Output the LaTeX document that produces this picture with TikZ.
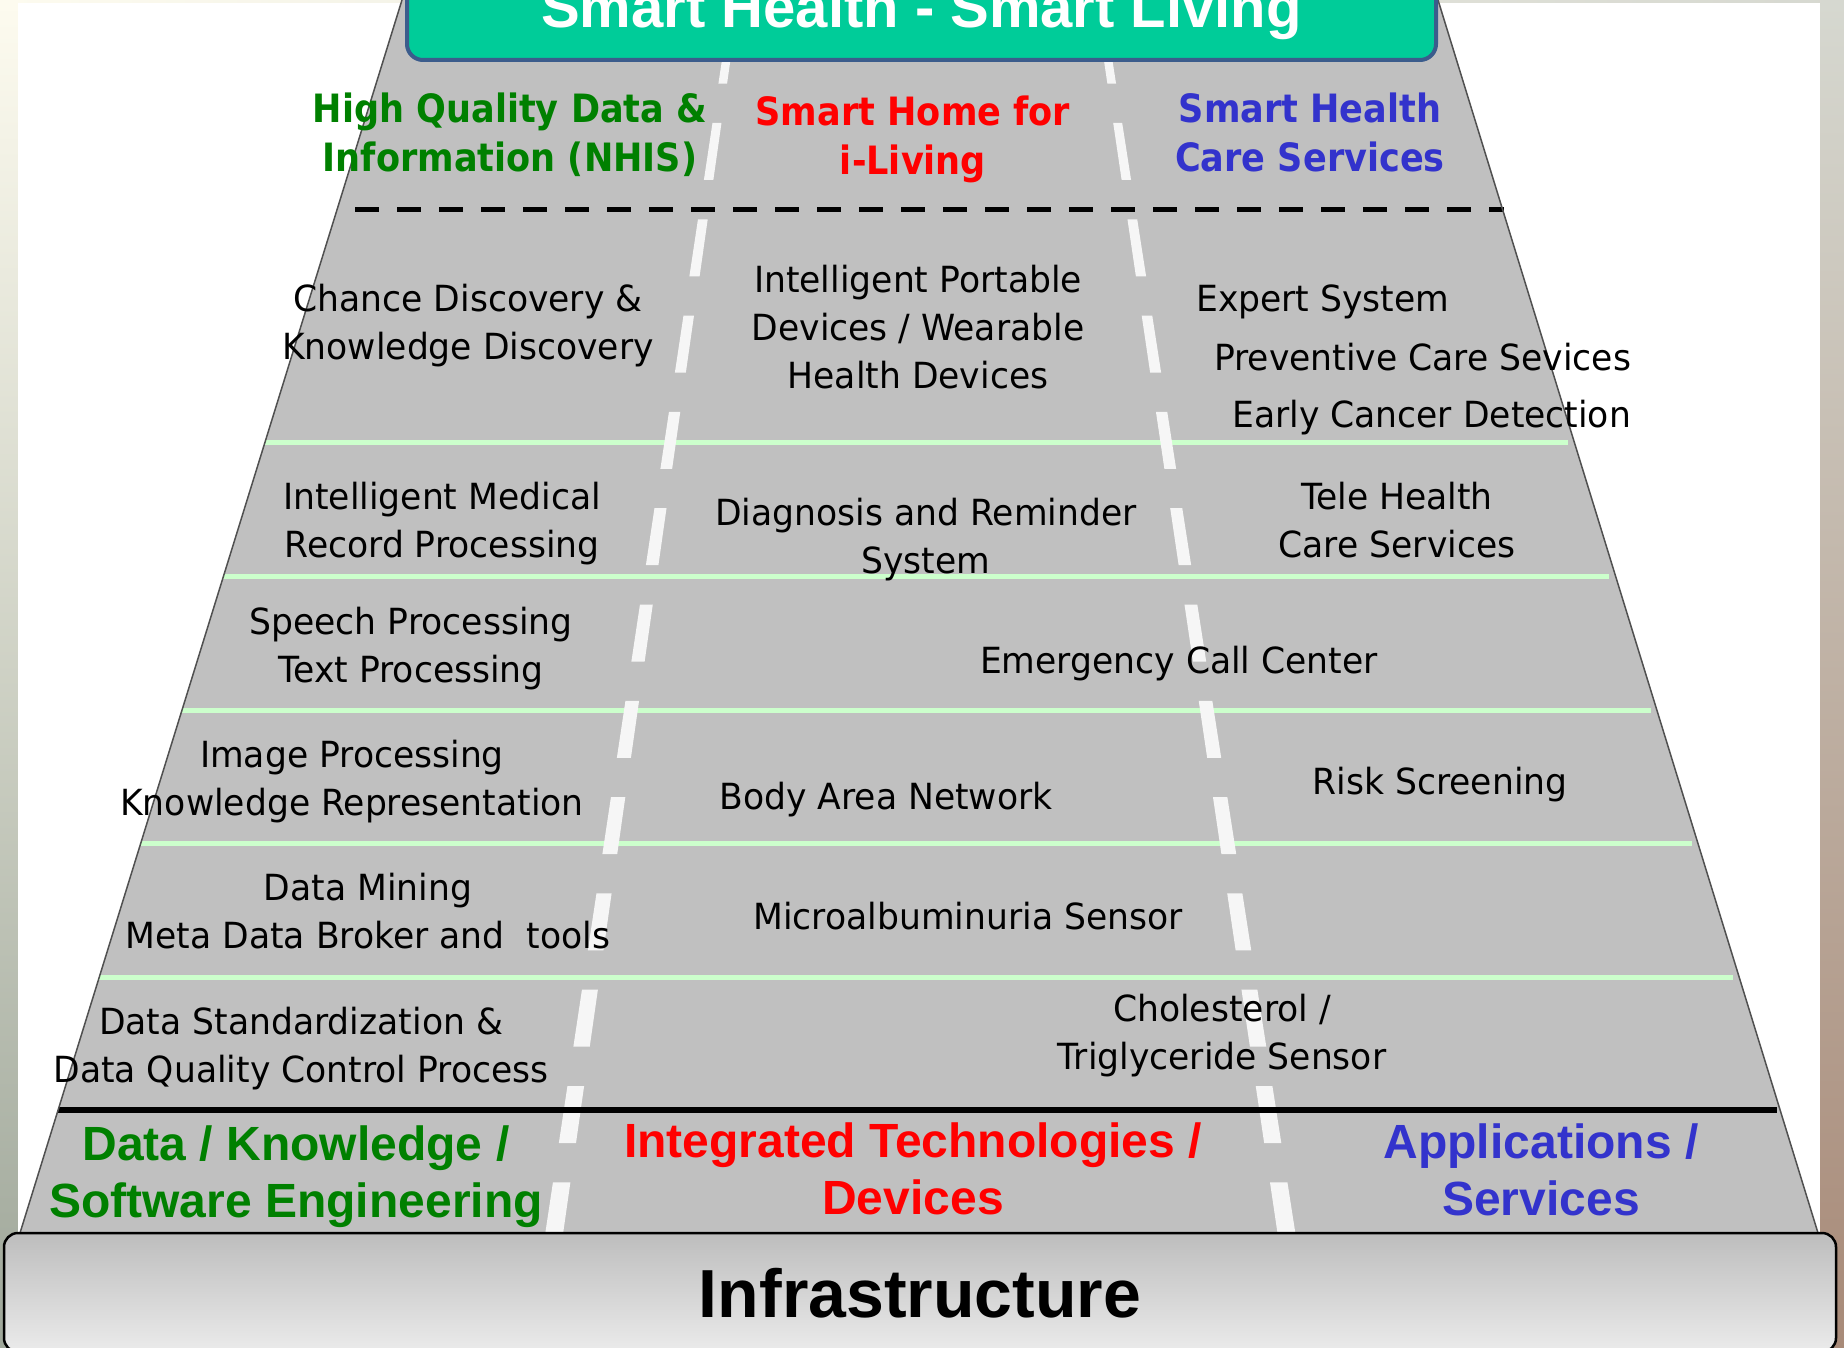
\documentclass[tikz,border=0pt]{standalone}
\usepackage{fontspec}
\setmainfont{DejaVu Sans}
\newfontfamily\bodyfont[FakeStretch=0.96]{DejaVu Sans}
\newfontfamily\headfont[FakeStretch=0.9]{DejaVu Sans}
\newfontfamily\arialfont{Liberation Sans}
\definecolor{road}{HTML}{C0C0C0}
\definecolor{titlegreen}{HTML}{00CC99}
\definecolor{titleborder}{HTML}{3B5C8C}
\definecolor{sepgreen}{HTML}{CCFFCC}
\definecolor{hdgreen}{HTML}{008000}
\definecolor{hdred}{HTML}{FF0000}
\definecolor{hdblue}{HTML}{3333CC}
\definecolor{infratop}{HTML}{BDBDBD}
\definecolor{infrabot}{HTML}{EBEBEB}
\definecolor{bgtop}{HTML}{FDFBEF}
\definecolor{bgmid}{HTML}{E0DFCF}
\definecolor{bgbot}{HTML}{9FA79A}
\definecolor{rtop}{HTML}{D6D8D0}
\definecolor{rmid}{HTML}{D2C196}
\definecolor{rbot}{HTML}{A88A78}
\definecolor{roadedge}{HTML}{505050}
\definecolor{lanewhite}{HTML}{F6F6F6}
\newcommand\bstrut{\rule[-10pt]{0pt}{46pt}}
\newcommand\hstrut{\rule[-10pt]{0pt}{48pt}}
\newcommand\astrut{\rule[-11pt]{0pt}{56pt}}
\begin{document}
\begin{tikzpicture}[x=1pt,y=-1pt,
  body/.style={font={\bodyfont\fontsize{36pt}{48pt}\selectfont}, align=center, inner sep=0pt},
  bodyl/.style={font={\bodyfont\fontsize{36pt}{48pt}\selectfont}, inner sep=0pt, anchor=base west},
  head/.style={font={\headfont\bfseries\fontsize{39pt}{49pt}\selectfont}, align=center, inner sep=0pt},
  foot/.style={font={\arialfont\bfseries\fontsize{48pt}{57pt}\selectfont}, align=center, inner sep=0pt},
  sepline/.style={draw=sepgreen, line width=5pt},
  lanedash/.style={fill=lanewhite},
  edgeline/.style={draw=roadedge, line width=1.5pt},
  titlebox/.style={draw=titleborder, line width=4pt, fill=titlegreen, rounded corners=16pt,
    minimum width=1029pt, minimum height=94pt, inner sep=0pt, text=white,
    font={\arialfont\bfseries\fontsize{58pt}{60pt}\selectfont}, text height=42pt, text depth=12pt},
  infrabox/.style={draw=black, line width=2.5pt, top color=infratop, bottom color=infrabot,
    rounded corners=14pt, minimum width=1832pt, minimum height=119pt, inner sep=0pt,
    font={\arialfont\bfseries\fontsize{68pt}{70pt}\selectfont}, text height=49pt, text depth=0pt}
]
\useasboundingbox (0,0) rectangle (1844,1348);
% background
\shade[left color=bgtop, right color=rtop] (0,0) rectangle (1844,3);
\shade[top color=bgtop, middle color=bgmid, bottom color=bgbot] (0,3) rectangle (18,1348);
\shade[top color=rtop, middle color=rmid, bottom color=rbot] (1820,3) rectangle (1844,1348);
\fill[white] (18,3) rectangle (1820,1348);
% road
\fill[road] (402,0) -- (1438,0) -- (1818,1233) -- (20,1233) -- cycle;
% separators
\foreach \yy in {442,576,710,843,977}{
  \draw[sepline] ({402-0.31*\yy},\yy) -- ({1438+0.308*\yy-6},\yy);
}
% lane dashes
\foreach \k in {-1,...,11}{
  \pgfmathsetmacro\ya{123+96.3*\k}
  \pgfmathsetmacro\yb{\ya+57}
  \pgfmathsetmacro\wa{4+0.004*\ya}
  \pgfmathsetmacro\wb{4+0.004*\yb}
  \pgfmathsetmacro\la{735-0.1466*\ya}
  \pgfmathsetmacro\lb{735-0.1466*\yb}
  \pgfmathsetmacro\ra{1099+0.152*\ya}
  \pgfmathsetmacro\rb{1099+0.152*\yb}
  \fill[lanedash] ({\la-\wa},\ya) -- ({\la+\wa},\ya) -- ({\lb+\wb},\yb) -- ({\lb-\wb},\yb) -- cycle;
  \fill[lanedash] ({\ra-\wa},\ya) -- ({\ra+\wa},\ya) -- ({\rb+\wb},\yb) -- ({\rb-\wb},\yb) -- cycle;
}
% black lines
\draw[black, line width=5pt, dash pattern=on 24pt off 18pt] (355,210) -- (1504,210);
\draw[black, line width=6pt] (58,1110) -- (1777,1110);
% road edges
\draw[edgeline] (402,0) -- (20,1233);
\draw[edgeline] (1438,0) -- (1818,1233);
% title
\node[titlebox] (title) at (921.5,13) {Smart Health - Smart Living};
% headers
\node[head, text=hdgreen] (hq) at (510,133.5) {High Quality Data \&\hstrut\\Information (NHIS)\hstrut};
\node[head, text=hdred] (shome) at (913,136) {Smart Home for\hstrut\\i-Living\hstrut};
\node[head, text=hdblue] (shealth) at (1310,133) {Smart Health\hstrut\\Care Services\hstrut};
% body
\node[body] (chance) at (468,322) {Chance Discovery \&\bstrut\\Knowledge Discovery\bstrut};
\node[body] (portable) at (918,327) {Intelligent Portable\bstrut\\Devices / Wearable\bstrut\\Health Devices\bstrut};
\node[bodyl] (expert) at (1196,311) {Expert System};
\node[bodyl] (prev) at (1214,370) {Preventive Care Sevices};
\node[bodyl] (early) at (1232,427) {Early Cancer Detection};
\node[body] (medical) at (442,520.5) {Intelligent Medical\bstrut\\Record Processing\bstrut};
\node[body] (diag) at (926,536) {Diagnosis and Reminder\bstrut\\System\bstrut};
\node[body] (tele) at (1397,520.5) {Tele Health\bstrut\\Care Services\bstrut};
\node[body] (speech) at (411,645) {Speech Processing\bstrut\\Text Processing\bstrut};
\node[body] (emerg) at (1179,660) {Emergency Call Center\bstrut};
\node[body] (image) at (352,778) {Image Processing\bstrut\\Knowledge Representation\bstrut};
\node[body] (ban) at (886,796) {Body Area Network\bstrut};
\node[body] (risk) at (1440,781) {Risk Screening\bstrut};
\node[body] (mining) at (368,911) {Data Mining\bstrut\\Meta Data Broker and\ \ tools\bstrut};
\node[body] (micro) at (968,916) {Microalbuminuria Sensor\bstrut};
\node[body] (std) at (301,1045) {Data Standardization \&\bstrut\\Data Quality Control Process\bstrut};
\node[body] (chol) at (1222,1032) {Cholesterol /\bstrut\\Triglyceride Sensor\bstrut};
% footer headings
\node[foot, text=hdgreen] (dk) at (296,1172) {Data / Knowledge /\astrut\\Software Engineering\astrut};
\node[foot, text=hdred] (itd) at (913,1168.5) {Integrated Technologies /\astrut\\Devices\astrut};
\node[foot, text=hdblue] (apps) at (1541,1169.5) {Applications /\astrut\\Services\astrut};
% infrastructure
\node[infrabox] (infra) at (920,1292.5) {Infrastructure};
\end{tikzpicture}
\end{document}
